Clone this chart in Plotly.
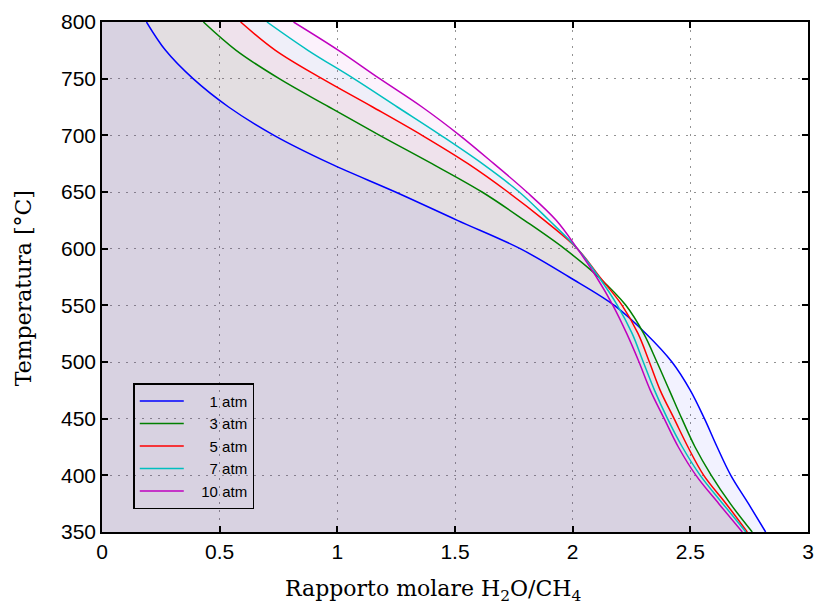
import plotly.graph_objects as go

# Temperature levels (°C) at which the H2O/CH4 ratio is tabulated
temperature = [800, 775, 750, 725, 700, 675, 650, 625, 600, 575,
               550, 525, 500, 475, 450, 425, 400, 375, 350]

# Limiting H2O/CH4 molar ratio for each pressure
ratio_1atm = [0.189, 0.27, 0.387, 0.538, 0.731, 0.971, 1.247, 1.51, 1.777, 1.985,
              2.177, 2.312, 2.422, 2.5, 2.56, 2.614, 2.672, 2.747, 2.82]
ratio_3atm = [0.431, 0.57, 0.753, 0.965, 1.18, 1.402, 1.615, 1.795, 1.965, 2.11,
              2.226, 2.302, 2.358, 2.411, 2.464, 2.52, 2.589, 2.67, 2.763]
ratio_5atm = [0.589, 0.737, 0.935, 1.15, 1.36, 1.555, 1.725, 1.88, 2.02, 2.115,
              2.21, 2.278, 2.326, 2.372, 2.431, 2.49, 2.557, 2.652, 2.742]
ratio_7atm = [0.701, 0.875, 1.07, 1.255, 1.44, 1.616, 1.773, 1.90, 2.02, 2.111,
              2.19, 2.253, 2.30, 2.348, 2.403, 2.466, 2.542, 2.638, 2.736]
ratio_10atm = [0.814, 1.005, 1.18, 1.36, 1.52, 1.665, 1.805, 1.93, 2.02, 2.101,
               2.171, 2.23, 2.282, 2.33, 2.389, 2.449, 2.524, 2.621, 2.721]

series_values = [ratio_1atm, ratio_3atm, ratio_5atm, ratio_7atm, ratio_10atm]
series_colors = [(0, 0, 255), (0, 128, 0), (255, 0, 0), (0, 191, 191), (191, 0, 191)]
legend_labels = ["\u00a0\u00a0\u00a0\u00a0\u00a01 atm", "\u00a0\u00a0\u00a0\u00a0\u00a03 atm",
                 "\u00a0\u00a0\u00a0\u00a0\u00a05 atm", "\u00a0\u00a0\u00a0\u00a0\u00a07 atm",
                 "\u00a0\u00a0\u00a010 atm"]

fig = go.Figure()

# Translucent shaded regions to the left of each curve
for vals, (r, g, b) in zip(series_values, series_colors):
    fig.add_trace(go.Scatter(
        x=vals, y=temperature, mode="none", fill="tozerox",
        fillcolor=f"rgba({r},{g},{b},0.05)", line=dict(shape="spline", smoothing=1.0),
        showlegend=False, hoverinfo="skip"))

# Curves
for vals, (r, g, b), lab in zip(series_values, series_colors, legend_labels):
    fig.add_trace(go.Scatter(
        x=vals, y=temperature, mode="lines", name=lab,
        line=dict(color=f"rgb({r},{g},{b})", width=1.5, shape="spline", smoothing=1.0)))

axis_common = dict(
    showline=True, linecolor="black", linewidth=1.5, mirror="ticks",
    ticks="inside", ticklen=6, tickwidth=1.5, tickcolor="black",
    showgrid=True, gridcolor="rgba(120,120,120,0.8)", gridwidth=1, griddash="2px,6px",
    zeroline=False,
    tickfont=dict(family="Liberation Sans, Arial, sans-serif", size=21, color="black"),
)

fig.update_xaxes(range=[0, 3], tickvals=[0, 0.5, 1, 1.5, 2, 2.5, 3],
                 ticktext=["0", "0.5", "1", "1.5", "2", "2.5", "3"], **axis_common)
fig.update_yaxes(range=[350, 800], tickvals=list(range(350, 801, 50)), **axis_common)

fig.add_annotation(
    text="Rapporto molare H<sub>2</sub>O/CH<sub>4</sub>", xref="paper", yref="paper",
    x=0.469, y=-0.114, xanchor="center", yanchor="middle", showarrow=False,
    font=dict(family="DejaVu Serif, serif", size=22, color="black"))
fig.add_annotation(
    text="Temperatura [°C]", xref="paper", yref="paper",
    x=-0.1118, y=0.478, xanchor="center", yanchor="middle", showarrow=False, textangle=-90,
    font=dict(family="DejaVu Serif, serif", size=22, color="black"))

fig.update_layout(
    width=822, height=608,
    margin=dict(l=102, r=8, t=22, b=76),
    paper_bgcolor="white", plot_bgcolor="white",
    legend=dict(x=0.0443, y=0.2916, xanchor="left", yanchor="top",
                bgcolor="rgba(0,0,0,0)", bordercolor="black", borderwidth=1.5,
                font=dict(family="Liberation Sans, Arial, sans-serif", size=15, color="black"),
                itemwidth=44, tracegroupgap=0),
    showlegend=True,
)

fig.write_html("out.html")
